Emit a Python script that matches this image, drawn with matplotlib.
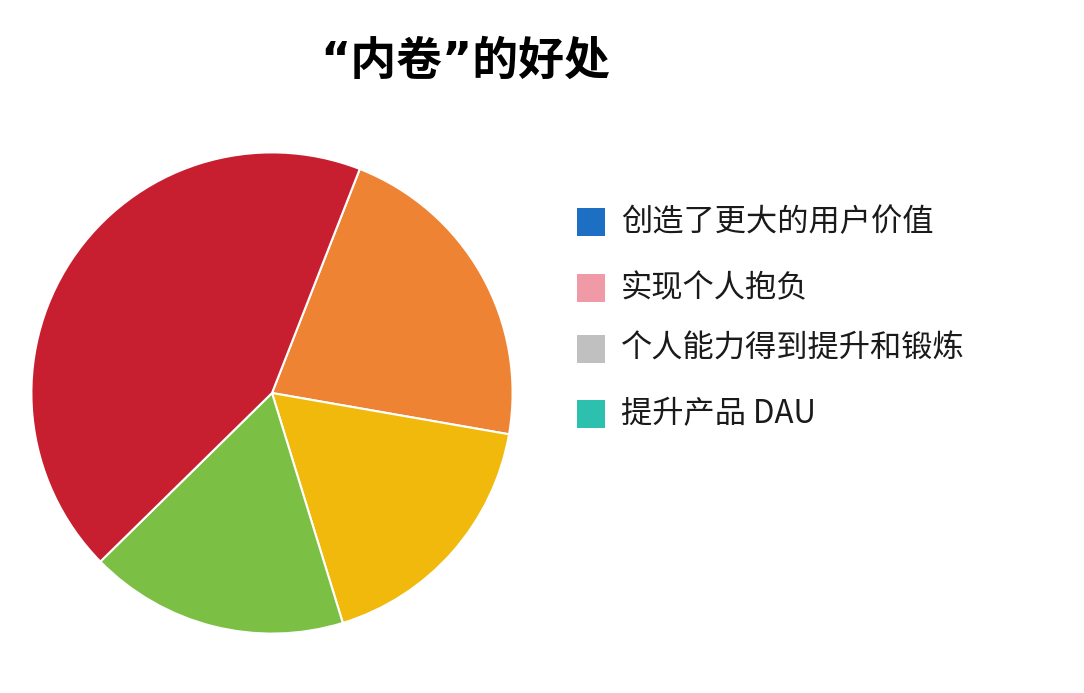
import matplotlib.pyplot as plt
from matplotlib.patches import Rectangle

plt.rcParams['font.family'] = ['Noto Sans CJK SC', 'DejaVu Sans']

# slice shares, clockwise from the top-right edge
slice_values = [21.8, 17.5, 17.4, 43.3]
slice_colors = ['#ee8433', '#f0b90c', '#7cbf45', '#c81f30']

legend_labels = ['创造了更大的用户价值', '实现个人抱负', '个人能力得到提升和锻炼', '提升产品 DAU']
legend_colors = ['#1c6fc2', '#ef9aa6', '#c0c0c0', '#2ec0ae']

title = '“内卷”的好处'

fig = plt.figure(figsize=(10.84, 6.93), dpi=100)

ax = fig.add_axes([29 / 1084, 57 / 693, 486 / 1084, 486 / 693])
ax.pie(slice_values, colors=slice_colors, startangle=68.6, counterclock=False,
       radius=1, wedgeprops=dict(edgecolor='white', linewidth=1.5))
ax.set_xlim(-1.01, 1.01)
ax.set_ylim(-1.01, 1.01)
ax.set_aspect('equal')
ax.axis('off')

# narrow western quotes from DejaVu, CJK falls back to Noto
fig.text(465 / 1084, 1 - 62 / 693, title, ha='center', va='center',
         fontsize=33, fontweight='bold', family=['DejaVu Sans', 'Noto Sans CJK SC'])

# legend rows
row_y = [222, 288, 349, 414]
for lab, col, y in zip(legend_labels, legend_colors, row_y):
    fig.add_artist(Rectangle((577 / 1084, 1 - (y + 14) / 693), 28 / 1084, 28 / 693,
                             transform=fig.transFigure, facecolor=col, edgecolor='none'))
    fig.text(621 / 1084, 1 - y / 693, lab, ha='left', va='center', fontsize=22.5,
             fontweight='medium', color='#1a1a1a')

fig.savefig('out.png', dpi=100)
